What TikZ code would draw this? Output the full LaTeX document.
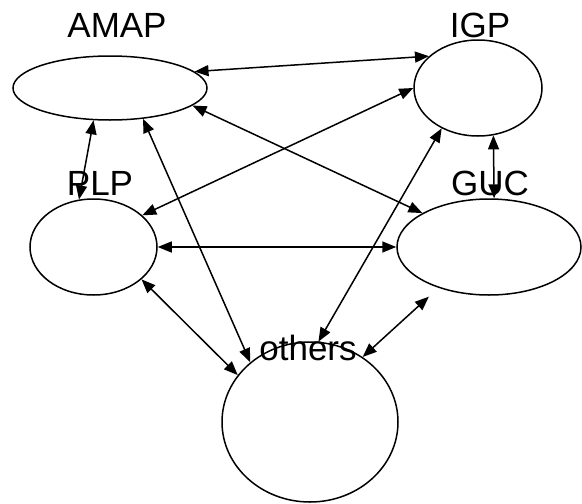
\documentclass[tikz,border=0pt]{standalone}
\usepackage{fontspec}
\setmainfont{Liberation Sans}
\usetikzlibrary{shapes.geometric,arrows.meta}
\begin{document}
\begin{tikzpicture}[x=1pt,y=-1pt,>={Triangle[length=14pt,width=11pt]},line width=1.5pt,
	unit/.style={draw,ellipse,inner sep=0pt},
	tag/.style={anchor=base,inner sep=0pt,font=\fontsize{35}{42}\selectfont}]
		\useasboundingbox (0,0) rectangle (582,504);
		% the five partners
		\node[unit,minimum width=194pt,minimum height=64pt] (amap) at (110,88) {};
		\node[unit,minimum width=128pt,minimum height=96pt] (igp) at (478,88) {};
		\node[unit,minimum width=127pt,minimum height=96pt] (plp) at (93.5,247) {};
		\node[unit,minimum width=184pt,minimum height=96pt] (guc) at (489,247) {};
		\node[unit,minimum width=176pt,minimum height=160pt] (others) at (310,422) {};
		\node[tag] (amaptag) at (117,37) {AMAP};
		\node[tag] (igptag) at (480,37) {IGP};
		\node[tag] (plptag) at (100,195) {PLP};
		\node[tag] (guctag) at (490,195) {GUC};
		\node[tag] (otherstag) at (308,360) {others};
		% links
		\draw[<->](amap.11)--(igp.147);
		\draw[<->](amap.-12)--(guc.153);
		\draw[<->](amap.-117)--(plp.107);
		\draw[<->](amap.-43)--(others.135);
		\draw[<->](igp.180)--(plp.33);
		\draw[<->](igp.-132)--(others.84);
		\draw[<->](igp.-72)--(guc.84);
		\draw[<->](plp.0)--(guc.180);
		\draw[<->](plp.-34)--(others.147);
		\draw[<->,shorten >=13pt](others.51)--(guc.-141);
\end{tikzpicture}
\end{document}
